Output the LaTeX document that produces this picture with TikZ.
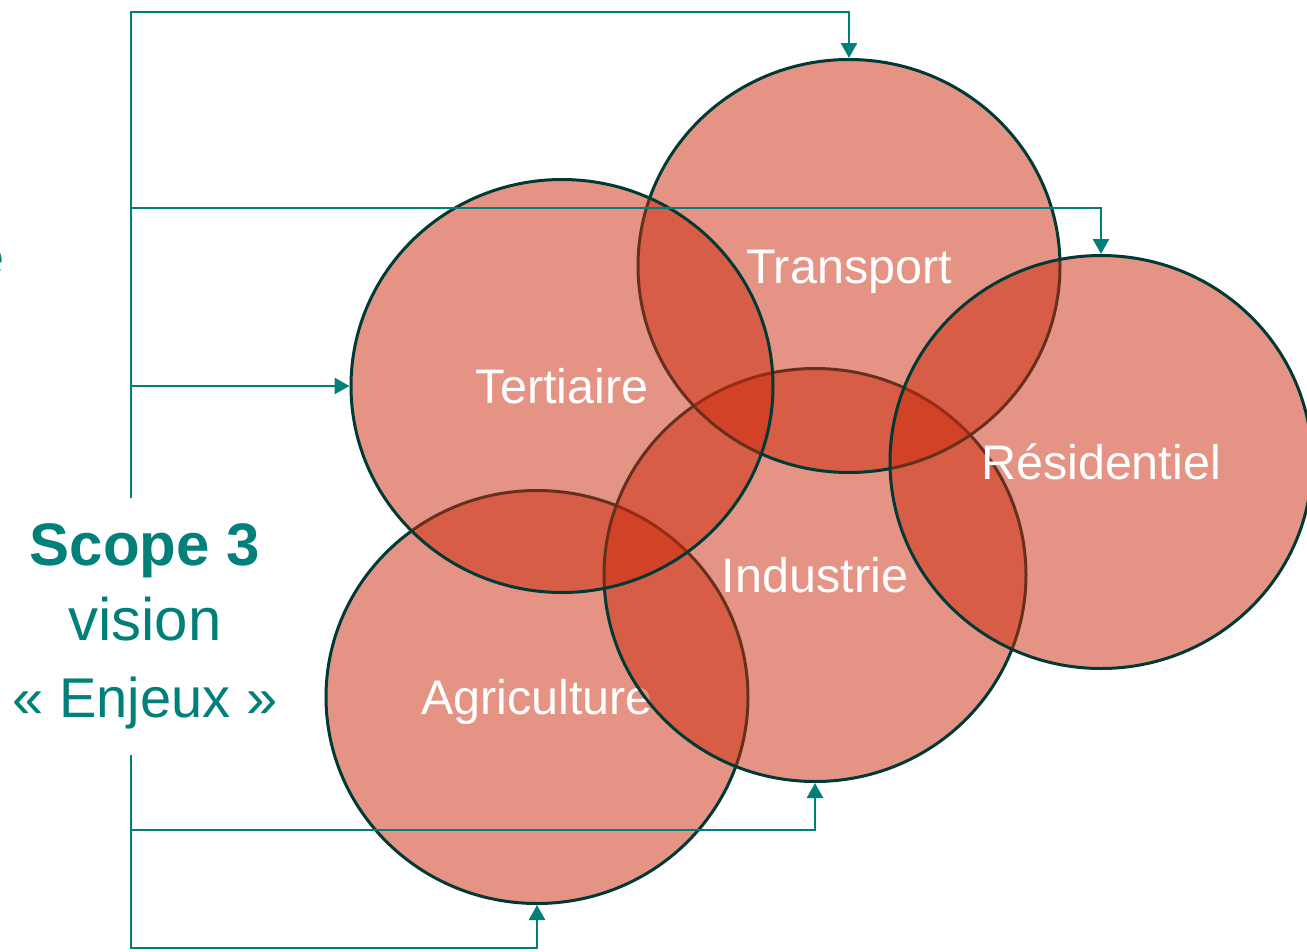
\documentclass[tikz,border=0pt]{standalone}
\usepackage{fontspec}
\setmainfont{Liberation Sans}
\usetikzlibrary{shapes.geometric,arrows.meta}
\definecolor{linkteal}{RGB}{0,128,120}
\definecolor{ringdark}{RGB}{0,58,52}
\definecolor{sectorred}{RGB}{204,40,10}
\begin{document}
\begin{tikzpicture}[x=1pt,y=-1pt,
  sector/.style={ellipse, minimum width=422pt, minimum height=413pt, inner sep=0pt,
    draw=ringdark, line width=3pt, fill=sectorred, fill opacity=0.5, draw opacity=1,
    text opacity=1, text=white, font=\fontsize{48.5}{52}\selectfont,
    text height=35pt, text depth=0pt},
  link/.style={draw=linkteal, line width=2.6pt},
  tip/.style={-{Triangle[length=15pt,width=16pt]}},
  label/.style={anchor=base, inner sep=0pt, text=linkteal}]
\useasboundingbox (0,0) rectangle (1307,951);
\fill[white] (0,0) rectangle (1307,951);

% circles, in drawing order
\node[sector] (agri)   at (537,697) {Agriculture};
\node[sector] (indus)  at (815,575) {Industrie};
\node[sector] (trans)  at (849,266) {Transport};
\node[sector] (terti)  at (562,386) {Tertiaire};
\node[sector] (resid)  at (1101,462) {Résidentiel};

% left label
\node[label, font=\fontsize{60}{70}\selectfont\bfseries] (scopeA) at (145,565) {Scope 3};
\node[label, font=\fontsize{60}{70}\selectfont] (scopeB) at (145,640) {vision};
\node[label, font=\fontsize{56}{70}\selectfont] (scopeC) at (145,717) {« Enjeux »};

% letter cut off at the left edge, as in the reference
\node[anchor=east, inner sep=0pt, text=linkteal, font=\fontsize{56}{60}\selectfont] (cut) at (5,262) {e};

% connector coordinates
\coordinate (topstart) at (131,498);
\coordinate (topcorner) at (131,12);
\coordinate (midA) at (131,208);
\coordinate (midB) at (131,386);
\coordinate (botstart) at (131,755);
\coordinate (botcorner) at (131,948);
\coordinate (botA) at (131,830);

\draw[link,tip] (topstart) -- (topcorner) -| (trans.north);
\draw[link,tip] (midA) -| (resid.north);
\draw[link,tip] (midB) -- (terti.west);
\draw[link,tip] (botstart) -- (botcorner) -| (agri.south);
\draw[link,tip] (botA) -| (indus.south);
\end{tikzpicture}
\end{document}
